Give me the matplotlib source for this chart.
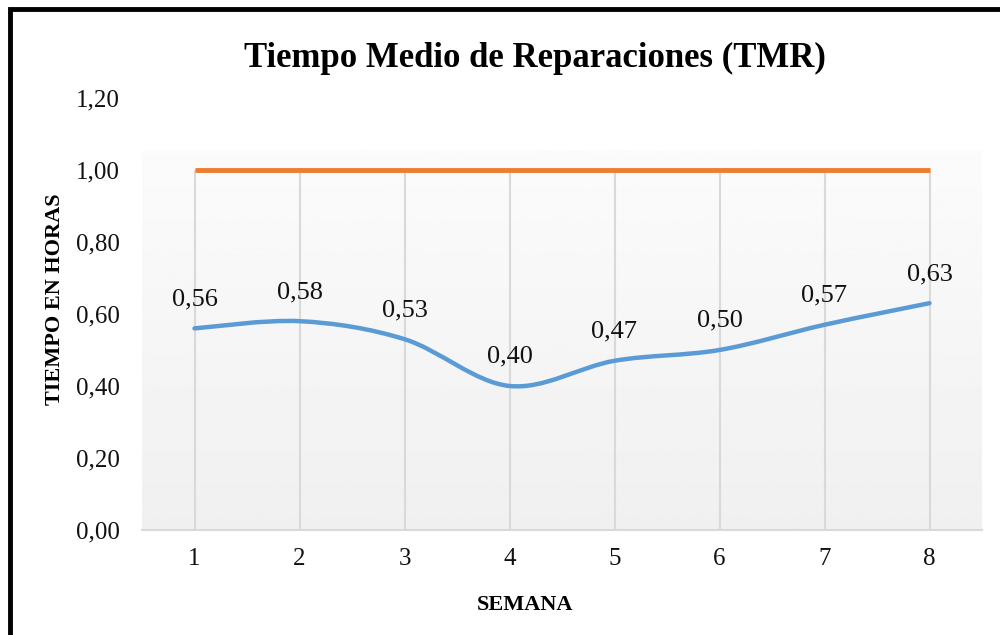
import matplotlib
matplotlib.use("Agg")
import matplotlib.pyplot as plt
import numpy as np
from matplotlib.path import Path
from matplotlib.patches import PathPatch, Rectangle

# Tiempo Medio de Reparaciones por semana
semanas = [1, 2, 3, 4, 5, 6, 7, 8]
tmr = [0.56, 0.58, 0.53, 0.40, 0.47, 0.50, 0.57, 0.63]
meta = [1.00, 1.00, 1.00, 1.00, 1.00, 1.00, 1.00, 1.00]
yticks = [0.0, 0.2, 0.4, 0.6, 0.8, 1.0, 1.2]

plt.rcParams['font.family'] = ['Liberation Serif', 'DejaVu Serif']

fig = plt.figure(figsize=(10, 6.35), dpi=100)
ax = fig.add_axes([0.142, 0.1654, 0.84, 0.6803])

ax.set_xlim(0.5, 8.5)
ax.set_ylim(0, 1.2)

# light gradient background of the plot area
grad = np.linspace(0.94, 0.985, 256).reshape(-1, 1)
ax.imshow(grad, cmap='gray', vmin=0, vmax=1, aspect='auto',
          extent=[0.5, 8.5, 0, 1.055], origin='lower', zorder=0)

# vertical gridlines
ax.vlines(semanas, 0, max(meta), color='#d9d9d9', lw=1.5, zorder=1)


def smooth_path(x, y):
    # Excel-like smooth line: cubic Bezier segments through every point
    p = np.column_stack([x, y]).astype(float)
    ext = np.vstack([p[0], p, p[-1]])
    verts = [p[0]]
    codes = [Path.MOVETO]
    for i in range(len(p) - 1):
        p0, p1, p2, p3 = ext[i], ext[i + 1], ext[i + 2], ext[i + 3]
        c1 = p1 + (p2 - p0) / 6.0
        c2 = p2 - (p3 - p1) / 6.0
        verts += [c1, c2, p2]
        codes += [Path.CURVE4] * 3
    return Path(verts, codes)


ax.add_patch(PathPatch(smooth_path(semanas, tmr), fill=False,
                       edgecolor='#5b9bd5', lw=3.2, capstyle='round',
                       zorder=3))
ax.plot(semanas, meta, color='#ed7d31', lw=3.5, solid_capstyle='butt',
        zorder=3)

for x, v in zip(semanas, tmr):
    ax.annotate(f"{v:.2f}".replace('.', ','), (x, v), xytext=(0, 13),
                textcoords='offset points', ha='center', va='bottom',
                fontsize=19, color='#111111', zorder=4)

ax.set_xticks(semanas)
ax.set_xticklabels([str(s) for s in semanas])
ax.set_yticks(yticks)
ax.set_yticklabels([f"{t:.2f}".replace('.', ',') for t in yticks])
ax.tick_params(axis='both', length=0, labelsize=18, colors='#111111')
ax.tick_params(axis='y', pad=16)
ax.tick_params(axis='x', pad=13)

for s in ['top', 'right', 'left']:
    ax.spines[s].set_visible(False)
ax.spines['bottom'].set_color('#d9d9d9')
ax.spines['bottom'].set_linewidth(1.5)
ax.spines['bottom'].set_zorder(2)

fig.text(0.535, 1 - 58 / 635, 'Tiempo Medio de Reparaciones (TMR)',
         ha='center', va='center', fontsize=25, fontweight='bold')
fig.text(0.055, 1 - 299 / 635, 'TIEMPO EN HORAS', rotation=90,
         ha='center', va='center', fontsize=16, fontweight='bold')
fig.text(0.525, 1 - 605 / 635, 'SEMANA', ha='center', va='center',
         fontsize=16, fontweight='bold')

# black frame around the chart (right and bottom edges fall outside the image)
fig.patches.append(Rectangle((0.0095, -0.1), 1.2, 1 - 0.0135 + 0.1,
                             transform=fig.transFigure, fill=False,
                             edgecolor='black', lw=3.5))

fig.savefig('out.png', dpi=100)
